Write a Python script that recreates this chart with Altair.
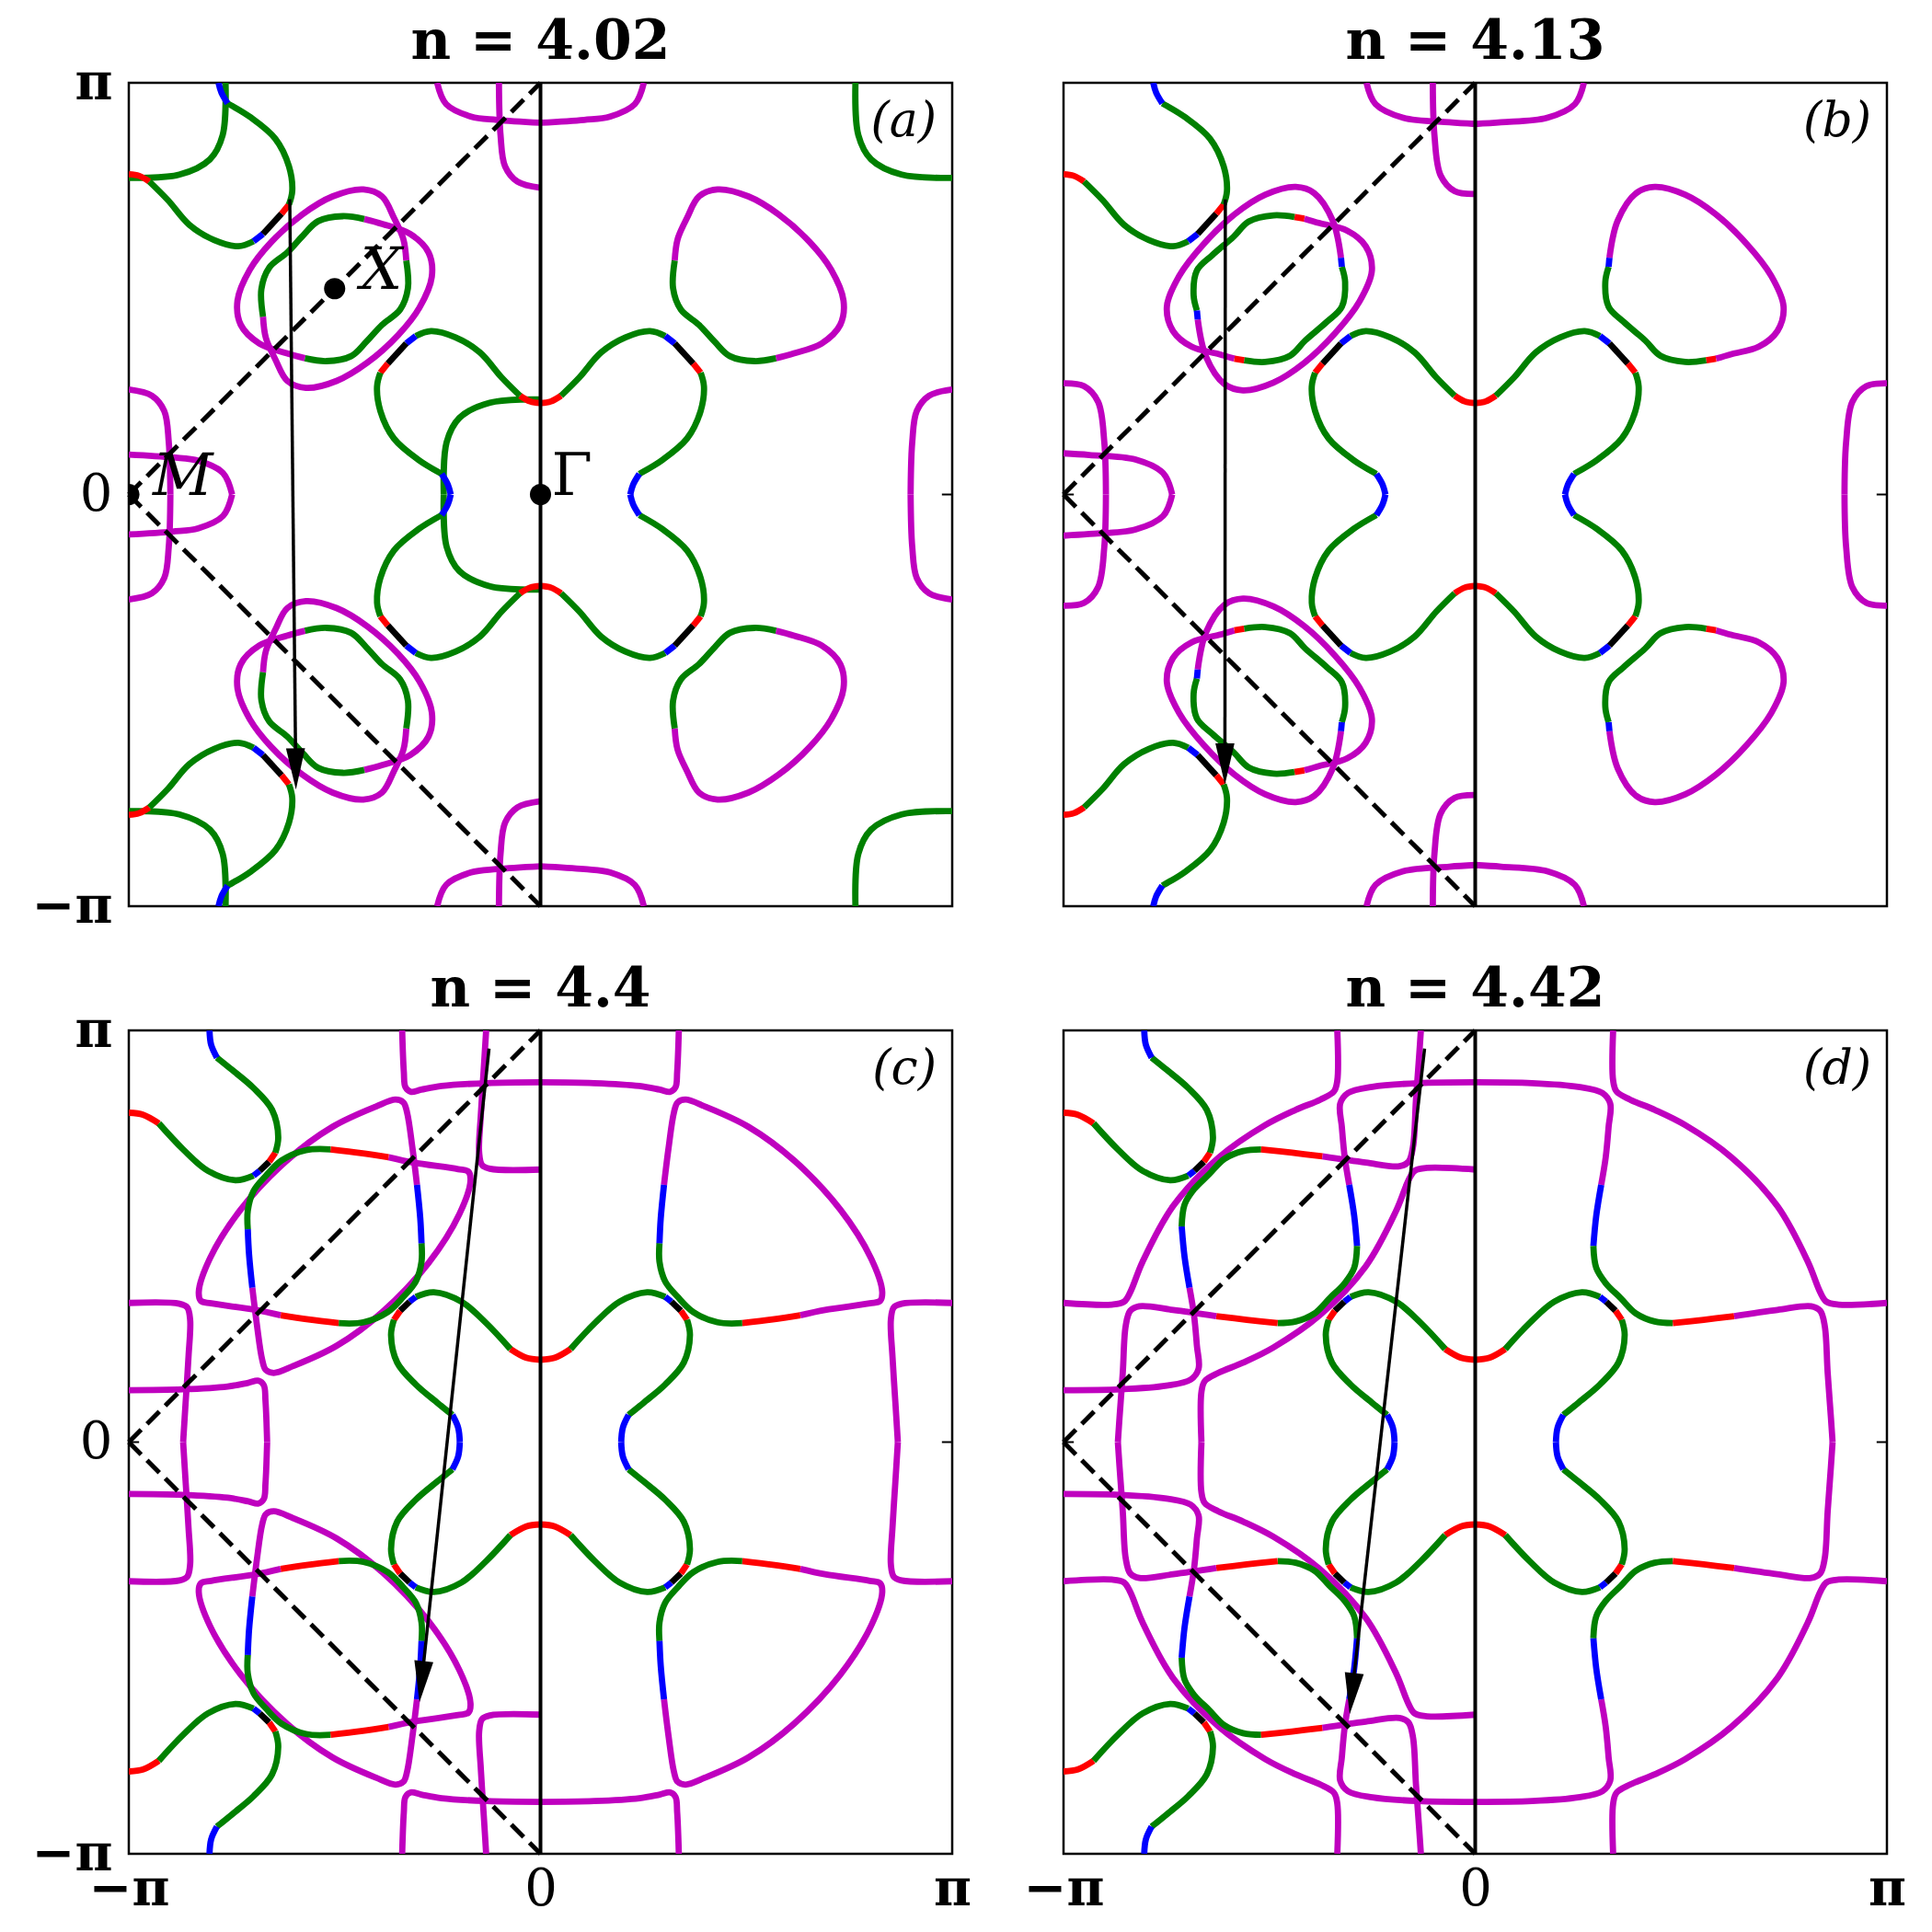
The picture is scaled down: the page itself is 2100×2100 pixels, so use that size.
import math
import altair as alt
import pandas as pd

# ---------------- data (k in units of pi) ----------------
PANEL_TITLES = ["n = 4.02", "n = 4.13", "n = 4.4", "n = 4.42"]
PANEL_TAGS = ["(a)", "(b)", "(c)", "(d)"]
TICK_VALUES = [-1, 0, 1]

COLORS = {"m": "#bf00bf", "g": "#008000", "r": "#ff0000", "b": "#0000ff", "k": "#000000"}

# Fermi-surface pieces read in the quadrant 0<=kx<=pi, 0<=ky<=pi (colour code, points)
CLOVER_AB = [
    ("r", [(0.0, 0.222), (0.025, 0.226), (0.050, 0.240)]),
    ("g", [(0.050, 0.240), (0.095, 0.285), (0.147, 0.345), (0.207, 0.382), (0.266, 0.397), (0.303, 0.385)]),
    ("b", [(0.303, 0.385), (0.326, 0.367)]),
    ("k", [(0.326, 0.367), (0.371, 0.318)]),
    ("r", [(0.371, 0.318), (0.389, 0.296)]),
    ("g", [(0.389, 0.296), (0.397, 0.263), (0.389, 0.203), (0.356, 0.136), (0.296, 0.084), (0.240, 0.050)]),
    ("b", [(0.240, 0.050), (0.225, 0.024), (0.218, 0.0)]),
]
CLOVER_CD = [
    ("r", [(0.0, 0.200), (0.035, 0.205), (0.073, 0.226)]),
    ("g", [(0.073, 0.226), (0.132, 0.289), (0.192, 0.341), (0.259, 0.364), (0.303, 0.353)]),
    ("b", [(0.303, 0.353), (0.318, 0.341)]),
    ("k", [(0.318, 0.341), (0.341, 0.319)]),
    ("r", [(0.341, 0.319), (0.356, 0.297)]),
    ("g", [(0.356, 0.297), (0.363, 0.260), (0.348, 0.193), (0.303, 0.140), (0.251, 0.096), (0.214, 0.066)]),
    ("b", [(0.214, 0.066), (0.200, 0.035), (0.196, 0.0)]),
]
POCKET_A = [
    ("m", [(0.326, 0.568), (0.333, 0.620), (0.356, 0.672), (0.385, 0.724), (0.430, 0.741), (0.505, 0.724),
           (0.579, 0.680), (0.654, 0.613), (0.706, 0.546), (0.736, 0.471), (0.728, 0.412), (0.683, 0.367),
           (0.616, 0.343), (0.572, 0.331)]),
    ("g", [(0.572, 0.331), (0.520, 0.324), (0.460, 0.336), (0.423, 0.371), (0.385, 0.412), (0.341, 0.449),
           (0.322, 0.501), (0.326, 0.568)]),
]
POCKET_B = [
    ("m", [(0.326, 0.575), (0.346, 0.665), (0.391, 0.732), (0.436, 0.747), (0.510, 0.728), (0.585, 0.680),
           (0.659, 0.609), (0.719, 0.531), (0.749, 0.456), (0.734, 0.397), (0.689, 0.359), (0.622, 0.341),
           (0.585, 0.330)]),
    ("r", [(0.585, 0.330), (0.561, 0.326)]),
    ("g", [(0.561, 0.326), (0.510, 0.322), (0.450, 0.337), (0.413, 0.374), (0.361, 0.419), (0.324, 0.456),
           (0.316, 0.516), (0.324, 0.553)]),
    ("b", [(0.324, 0.553), (0.326, 0.575)]),
]
POCKET_C = [
    ("m", [(0.300, 0.625), (0.311, 0.714), (0.324, 0.800), (0.333, 0.825), (0.352, 0.832), (0.400, 0.815),
           (0.505, 0.766), (0.616, 0.684), (0.728, 0.565), (0.803, 0.446), (0.830, 0.365), (0.825, 0.343),
           (0.800, 0.337), (0.691, 0.321), (0.631, 0.308)]),
    ("r", [(0.631, 0.308), (0.564, 0.298), (0.490, 0.289)]),
    ("g", [(0.490, 0.289), (0.430, 0.291), (0.371, 0.316), (0.333, 0.353), (0.303, 0.390), (0.289, 0.438),
           (0.289, 0.483)]),
    ("b", [(0.289, 0.483), (0.292, 0.543), (0.300, 0.625)]),
]
PH_A = [("m", [(0.0, 0.903), (0.106, 0.910), (0.169, 0.918), (0.229, 0.948), (0.251, 1.0)])]
PV_A = [("m", [(1.0, 0.255), (0.944, 0.240), (0.914, 0.203), (0.903, 0.128), (0.899, 0.0)])]
CORNER_A = [("g", [(0.765, 1.0), (0.772, 0.873), (0.803, 0.814), (0.877, 0.777), (1.0, 0.769)])]
PH_B = [("m", [(0.0, 0.900), (0.063, 0.904), (0.175, 0.915), (0.242, 0.948), (0.264, 1.0)])]
PV_B = [("m", [(1.0, 0.270), (0.950, 0.263), (0.916, 0.225), (0.901, 0.128), (0.897, 0.0)])]
PH_C = [("m", [(0.0, 0.874), (0.130, 0.872), (0.240, 0.865), (0.290, 0.856), (0.315, 0.851), (0.328, 0.862),
               (0.332, 0.900), (0.336, 1.0)])]
PV_C = [("m", [(1.0, 0.338), (0.877, 0.336), (0.858, 0.327), (0.851, 0.297), (0.855, 0.207), (0.862, 0.096),
               (0.868, 0.0)])]
INNER_D = [
    ("m", [(0.0, 0.874), (0.138, 0.872), (0.250, 0.863), (0.309, 0.848), (0.328, 0.822), (0.324, 0.766),
           (0.317, 0.692), (0.306, 0.625)]),
    ("b", [(0.306, 0.625), (0.294, 0.550), (0.287, 0.476)]),
    ("g", [(0.287, 0.476), (0.294, 0.423), (0.317, 0.386), (0.354, 0.349), (0.391, 0.312), (0.436, 0.293),
           (0.480, 0.289)]),
    ("r", [(0.480, 0.289), (0.555, 0.297), (0.629, 0.306)]),
    ("m", [(0.629, 0.306), (0.734, 0.321), (0.816, 0.330), (0.838, 0.319), (0.849, 0.282), (0.856, 0.170),
           (0.864, 0.059), (0.868, 0.0)]),
]
OUTER_D = [
    ("m", [(0.335, 1.0), (0.335, 0.878), (0.343, 0.852), (0.376, 0.832), (0.436, 0.807), (0.510, 0.770),
           (0.622, 0.692), (0.734, 0.573), (0.808, 0.438), (0.838, 0.364), (0.853, 0.341), (0.883, 0.334),
           (1.0, 0.338)]),
]

PANEL_SHAPES = [
    [CORNER_A, PH_A, PV_A, POCKET_A, CLOVER_AB],
    [PH_B, PV_B, POCKET_B, CLOVER_AB],
    [PH_C, PV_C, POCKET_C, CLOVER_CD],
    [OUTER_D, INNER_D, CLOVER_CD],
]

# right half: unfolded zone (identity, ky mirror); left half: mirror + copy shifted by Q=(pi,pi)
SYM_OPS = [(1, 1, 0, 0), (1, -1, 0, 0), (-1, 1, 0, 0), (-1, -1, 0, 0), (1, -1, -1, 1), (1, 1, -1, -1)]

ARROW_START_X = [-0.609, -0.607, -0.125, -0.123]
ARROW_START_Y = [0.717, 0.717, 0.956, 0.956]
ARROW_TIP_X = [-0.594, -0.608, -0.294, -0.305]
ARROW_TIP_Y = [-0.717, -0.705, -0.632, -0.661]

DASH_X = [-1, -1]
DASH_Y = [0, 0]
DASH_X2 = [0, 0]
DASH_Y2 = [1, -1]

POINT_X = [-0.5, -1.0, 0.0]
POINT_Y = [0.5, 0.0, 0.0]
POINT_NAMES = ["X", "M", "Γ"]

# ---------------- build tables ----------------
rows = []
for p, shapes in enumerate(PANEL_SHAPES):
    for s, shape in enumerate(shapes):
        for g, (c, pts) in enumerate(shape):
            for o, (sx, sy, tx, ty) in enumerate(SYM_OPS):
                gid = f"{p}-{s}-{g}-{o}"
                for k, (x, y) in enumerate(pts):
                    rows.append({"panel": p, "gid": gid, "ord": k, "x": sx * x + tx, "y": sy * y + ty,
                                 "col": COLORS[c]})
lines_df = pd.DataFrame(rows)

DOM = [-1, 1]
LABEL_EXPR = "datum.value == 0 ? '0' : (datum.value > 0 ? 'π' : '−π')"
LABEL_WEIGHT = {"condition": {"test": "datum.value == 0", "value": "normal"}, "value": "bold"}
FONT = "DejaVu Serif"


def make_panel(p):
    show_x = p >= 2
    show_y = p % 2 == 0
    xa = alt.Axis(values=TICK_VALUES, labelExpr=LABEL_EXPR, title=None, labelPadding=11,
                  minExtent=68, maxExtent=68, labelFlush=False, labelFontWeight=LABEL_WEIGHT) if show_x else None
    ya = alt.Axis(values=TICK_VALUES, labelExpr=LABEL_EXPR, title=None, labelPadding=18,
                  minExtent=100, maxExtent=100, labelFlush=False, labelFontWeight=LABEL_WEIGHT) if show_y else None

    def xenc(field):
        return alt.X(field, type="quantitative", scale=alt.Scale(domain=DOM, nice=False, zero=False), axis=xa)

    def yenc(field):
        return alt.Y(field, type="quantitative", scale=alt.Scale(domain=DOM, nice=False, zero=False), axis=ya)

    d = lines_df[lines_df.panel == p]
    contours = alt.Chart(d).mark_line(strokeWidth=6.8, interpolate="catmull-rom", clip=True,
                                      strokeCap="butt").encode(
        x=xenc("x"), y=yenc("y"),
        detail="gid:N", order="ord:Q", color=alt.Color("col:N", scale=None))

    dash_df = pd.DataFrame({"x": DASH_X, "y": DASH_Y, "x2": DASH_X2, "y2": DASH_Y2})
    dashes = alt.Chart(dash_df).mark_rule(strokeWidth=5, strokeDash=[19, 9], color="black").encode(
        x=xenc("x"), y=yenc("y"), x2="x2:Q", y2="y2:Q")

    center_df = pd.DataFrame({"x": [TICK_VALUES[1]], "y": [TICK_VALUES[0]], "y2": [TICK_VALUES[2]]})
    center = alt.Chart(center_df).mark_rule(strokeWidth=4, color="black").encode(
        x=xenc("x"), y=yenc("y"), y2="y2:Q")

    tl = 0.025
    trows = []
    for v in TICK_VALUES:
        trows += [{"x": -1, "x2": -1 + tl, "y": v, "y2": v}, {"x": 1 - tl, "x2": 1, "y": v, "y2": v},
                  {"x": v, "x2": v, "y": -1, "y2": -1 + tl}, {"x": v, "x2": v, "y": 1 - tl, "y2": 1}]
    ticks = alt.Chart(pd.DataFrame(trows)).mark_rule(strokeWidth=2, color="black", clip=True).encode(
        x=xenc("x"), y=yenc("y"), x2="x2:Q", y2="y2:Q")

    sx, sy, tx, ty = ARROW_START_X[p], ARROW_START_Y[p], ARROW_TIP_X[p], ARROW_TIP_Y[p]
    dx, dy = tx - sx, ty - sy
    n = math.hypot(dx, dy)
    ex, ey = tx - 0.05 * dx / n, ty - 0.05 * dy / n
    ang = math.degrees(math.atan2(-dx, -dy)) % 360
    shaft = alt.Chart(pd.DataFrame({"x": [sx], "y": [sy], "x2": [ex], "y2": [ey]})).mark_rule(
        strokeWidth=3.5, color="black").encode(x=xenc("x"), y=yenc("y"), x2="x2:Q", y2="y2:Q")
    head = alt.Chart(pd.DataFrame({"x": [tx], "y": [ty]})).mark_point(
        shape="M0,0L-0.23,-1L0.23,-1Z", size=8100, filled=True, opacity=1, color="black",
        angle=ang, strokeWidth=0).encode(x=xenc("x"), y=yenc("y"))

    tag = alt.Chart(pd.DataFrame({"x": [0.962], "y": [0.87], "t": [PANEL_TAGS[p]]})).mark_text(
        font=FONT, fontSize=52, fontStyle="italic", align="right", baseline="alphabetic", color="black").encode(
        x=xenc("x"), y=yenc("y"), text="t:N")

    layers = [contours, dashes, center, ticks, shaft, head, tag]

    if p == 0:
        pts = pd.DataFrame({"x": POINT_X, "y": POINT_Y, "t": POINT_NAMES})
        dots = alt.Chart(pts).mark_circle(size=530, color="black", opacity=1, clip=True).encode(
            x=xenc("x"), y=yenc("y"))
        layers.append(dots)
        for name, ddx, style in [("X", 28, "italic"), ("M", 26, "italic"), ("Γ", 12, "normal")]:
            lab = alt.Chart(pts[pts.t == name]).mark_text(
                font=FONT, fontSize=64, fontStyle=style, align="left", baseline="alphabetic", dx=ddx,
                color="black").encode(x=xenc("x"), y=yenc("y"), text="t:N")
            layers.append(lab)

    # left-column panels: their top y label sticks up above the frame, so pull the title down by that much
    toff = -15 if show_y else 11
    return alt.layer(*layers).properties(
        width=895, height=895,
        title=alt.TitleParams(PANEL_TITLES[p], font=FONT, fontSize=60, fontWeight="bold", anchor="middle",
                              frame="group", offset=toff, color="black"))


row1 = alt.hconcat(make_panel(0), make_panel(1), spacing=115)
row2 = alt.hconcat(make_panel(2), make_panel(3), spacing=53)
chart = alt.vconcat(row1, row2, spacing=29).properties(
    padding={"left": 24, "top": 6, "right": 0, "bottom": 0}
).configure_view(stroke="black", strokeWidth=2.5).configure_axis(
    grid=False, domain=False, ticks=False, labelFont=FONT, labelFontSize=56, labelFontWeight="bold",
    labelColor="black")

chart.save("out.html", embed_options={"renderer": "svg", "actions": False})
